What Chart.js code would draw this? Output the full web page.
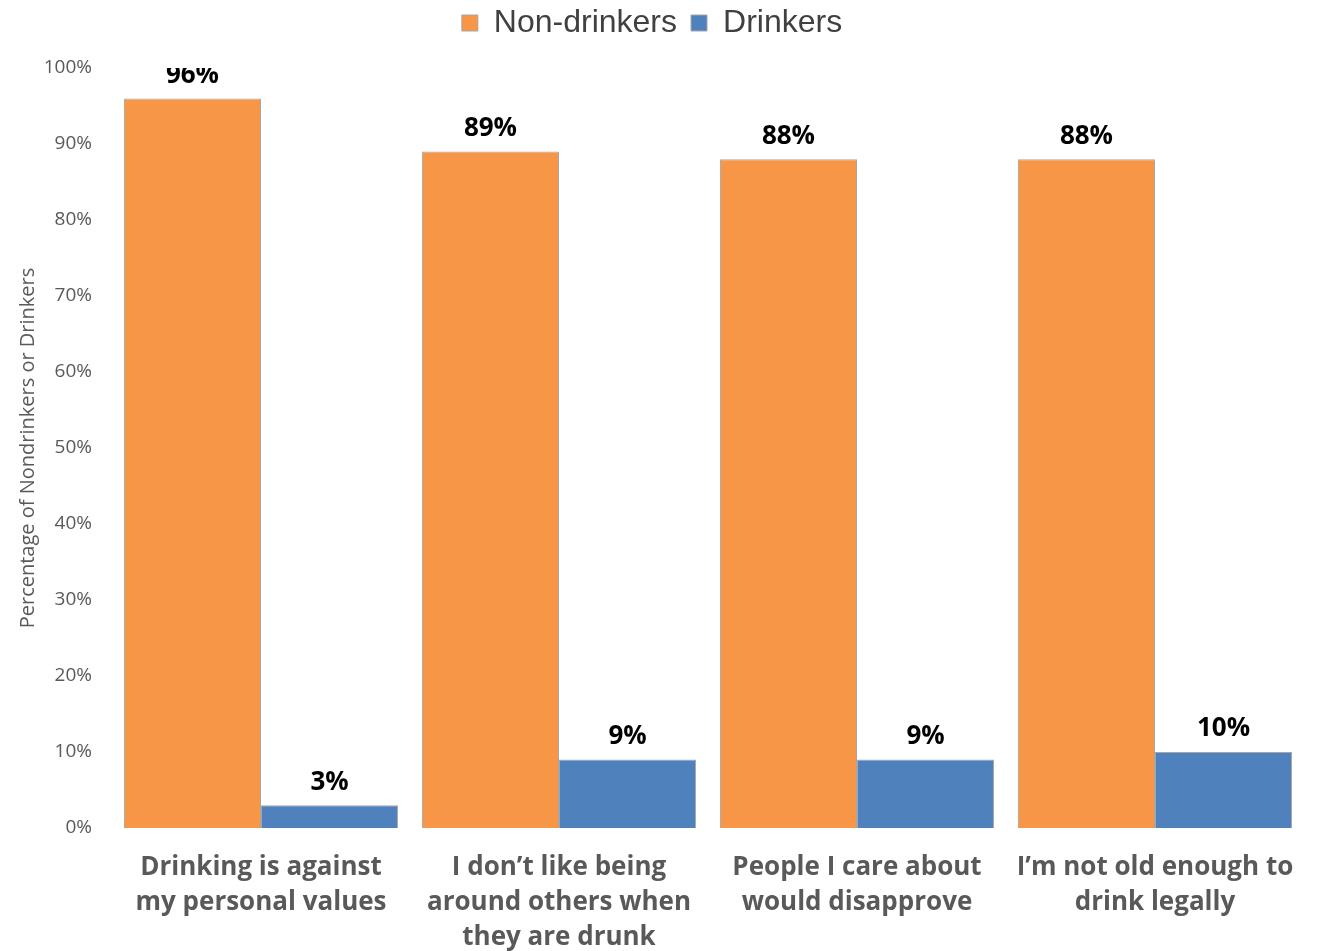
<!DOCTYPE html>
<html>
<head>
<meta charset="utf-8">
<style>
  html, body { margin: 0; padding: 0; background: #fff; }
  #wrap { width: 1322px; height: 951px; }
</style>
<script src="https://cdn.jsdelivr.net/npm/chart.js@4"></script>
</head>
<body>
<div id="wrap"><canvas id="chart" width="1322" height="951"></canvas></div>
<script>
// Data
const categories = [
  ['Drinking is against', 'my personal values'],
  ['I don\u2019t like being', 'around others when', 'they are drunk'],
  ['People I care about', 'would disapprove'],
  ['I\u2019m not old enough to', 'drink legally']
];
const nonDrinkers = [96, 89, 88, 88];
const drinkers = [3, 9, 9, 10];
const yTicks = [0, 10, 20, 30, 40, 50, 60, 70, 80, 90, 100];

// Fix legend block height so the plot starts where the reference does
const legendHeight = {
  id: 'legendHeight',
  beforeInit(chart) {
    const fit = chart.legend.fit;
    chart.legend.fit = function () {
      fit.bind(chart.legend)();
      this.height = 75;
    };
  }
};

// Bold value labels above the bars, clipped to the plot area
const valueLabels = {
  id: 'valueLabels',
  afterDatasetsDraw(chart) {
    const ctx = chart.ctx;
    const area = chart.chartArea;
    ctx.save();
    ctx.beginPath();
    ctx.rect(area.left, area.top, area.right - area.left, area.bottom - area.top + 200);
    ctx.clip();
    ctx.font = 'bold 26px "Open Sans"';
    ctx.fillStyle = '#000';
    ctx.textAlign = 'center';
    ctx.textBaseline = 'middle';
    chart.data.datasets.forEach((ds, i) => {
      chart.getDatasetMeta(i).data.forEach((bar, j) => {
        ctx.fillText(ds.data[j] + '%', bar.x, bar.y - 23);
      });
    });
    ctx.restore();
  }
};

const ctx = document.getElementById('chart').getContext('2d');
new Chart(ctx, {
  type: 'bar',
  data: {
    labels: categories,
    datasets: [
      {
        label: 'Non-drinkers',
        data: nonDrinkers,
        backgroundColor: '#F79646',
        borderColor: '#A6A6A6',
        borderWidth: 1,
        categoryPercentage: 0.92,
        barPercentage: 1.0
      },
      {
        label: 'Drinkers',
        data: drinkers,
        backgroundColor: '#4F81BD',
        borderColor: '#A6A6A6',
        borderWidth: 1,
        categoryPercentage: 0.92,
        barPercentage: 1.0
      }
    ]
  },
  options: {
    responsive: false,
    animation: false,
    layout: { padding: { left: 0, right: 18, top: -7, bottom: 0 } },
    plugins: {
      legend: {
        position: 'top',
        labels: {
          font: { family: 'Liberation Sans', size: 32 },
          color: '#404040',
          boxWidth: 16,
          boxHeight: 16,
          padding: 14
        }
      },
      tooltip: { enabled: false }
    },
    scales: {
      x: {
        grid: { display: false, drawTicks: false },
        border: { display: false },
        ticks: {
          font: { family: 'Open Sans', size: 26, weight: 'bold', lineHeight: 1.35 },
          color: '#595959',
          padding: 22,
          maxRotation: 0,
          autoSkip: false
        },
        afterFit(scale) { scale.height = 123; }
      },
      y: {
        min: 0,
        max: 100,
        grid: { display: false, drawTicks: false },
        border: { display: false },
        afterBuildTicks(scale) {
          scale.ticks = yTicks.map(v => ({ value: v }));
        },
        ticks: {
          font: { family: 'Open Sans', size: 19 },
          color: '#595959',
          padding: 20,
          callback: v => v + '%'
        },
        title: {
          display: true,
          text: 'Percentage of Nondrinkers or Drinkers',
          font: { family: 'Open Sans', size: 20 },
          color: '#595959',
          padding: { top: 16, bottom: 0 }
        },
        afterFit(scale) { scale.width = 112; }
      }
    }
  },
  plugins: [legendHeight, valueLabels]
});
</script>
</body>
</html>
